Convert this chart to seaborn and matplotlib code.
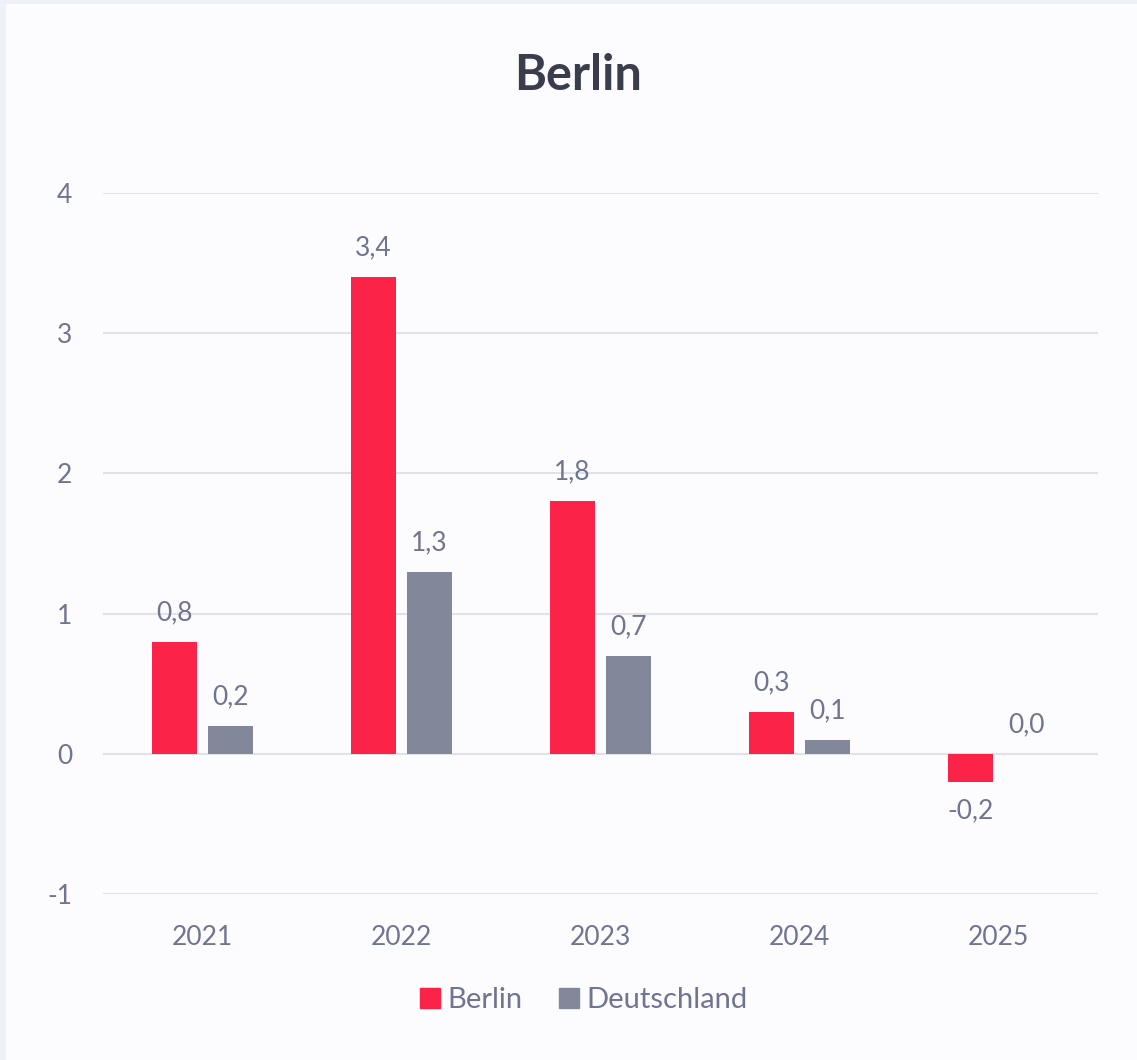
import matplotlib
matplotlib.use("Agg")
import matplotlib.pyplot as plt
from matplotlib.lines import Line2D
from matplotlib.patches import Rectangle
import seaborn as sns
import pandas as pd

years = ["2021", "2022", "2023", "2024", "2025"]
berlin = [0.8, 3.4, 1.8, 0.3, -0.2]
deutschland = [0.2, 1.3, 0.7, 0.1, 0.0]
series_names = ["Berlin", "Deutschland"]
colors = ["#fb2347", "#828799"]
y_ticks = [-1, 0, 1, 2, 3, 4]

df = pd.DataFrame({
    "Jahr": years * 2,
    "Wert": berlin + deutschland,
    "Reihe": [series_names[0]] * len(years) + [series_names[1]] * len(years),
})

sns.set_style("white")
plt.rcParams["font.family"] = ["Lato", "DejaVu Sans"]

text_color = "#6f7591"
grid_color = "#e1e2e8"
panel_color = "#fcfcfe"

fig = plt.figure(figsize=(11.37, 10.6), dpi=100, facecolor="#eef1f7")
fig.patches.append(Rectangle((6 / 1137, 0), 1, 1 - 4 / 1060, transform=fig.transFigure,
                             facecolor=panel_color, edgecolor="none", zorder=-10))
ax = fig.add_axes([103 / 1137, 1 - 894 / 1060, 995 / 1137, 701 / 1060])
ax.set_facecolor("none")
ax.set_zorder(5)

sns.barplot(data=df, x="Jahr", y="Wert", hue="Reihe", palette=colors, ax=ax,
            width=0.56, gap=0.2, legend=False, saturation=1, zorder=3, linewidth=0)

for cont in ax.containers:
    ax.bar_label(cont, fmt=lambda v: f"{v:.1f}".replace(".", ","), padding=12,
                 fontsize=19, color=text_color)

ax.set_ylim(-1, 4)
ax.set_xlim(-0.5, 4.5)
ax.set_yticks(y_ticks)
ax.set_yticklabels([str(t) for t in y_ticks])
ax.yaxis.grid(True, color=grid_color, linewidth=1.5, zorder=0)
ax.set_axisbelow(True)
for s in ax.spines.values():
    s.set_visible(False)
ax.tick_params(axis="both", length=0, labelsize=19, labelcolor=text_color)
ax.tick_params(axis="y", pad=22)
ax.tick_params(axis="x", pad=22)
ax.set_xlabel("")
ax.set_ylabel("")

fig.text(578 / 1137, 1 - 75 / 1060, "Berlin", ha="center", va="center",
         fontsize=35, fontweight="bold", color="#3a3d4c")

handles = [Line2D([], [], marker="s", linestyle="none", markersize=14,
                  markerfacecolor=c, markeredgecolor=c) for c in colors]
fig.legend(handles, series_names, loc="center", bbox_to_anchor=(583 / 1137, 1 - 1000 / 1060),
           ncol=2, frameon=False, fontsize=21, labelcolor=text_color,
           handletextpad=0.2, columnspacing=1.2, handlelength=0.8)

fig.savefig("out.png", dpi=100, facecolor=fig.get_facecolor())
